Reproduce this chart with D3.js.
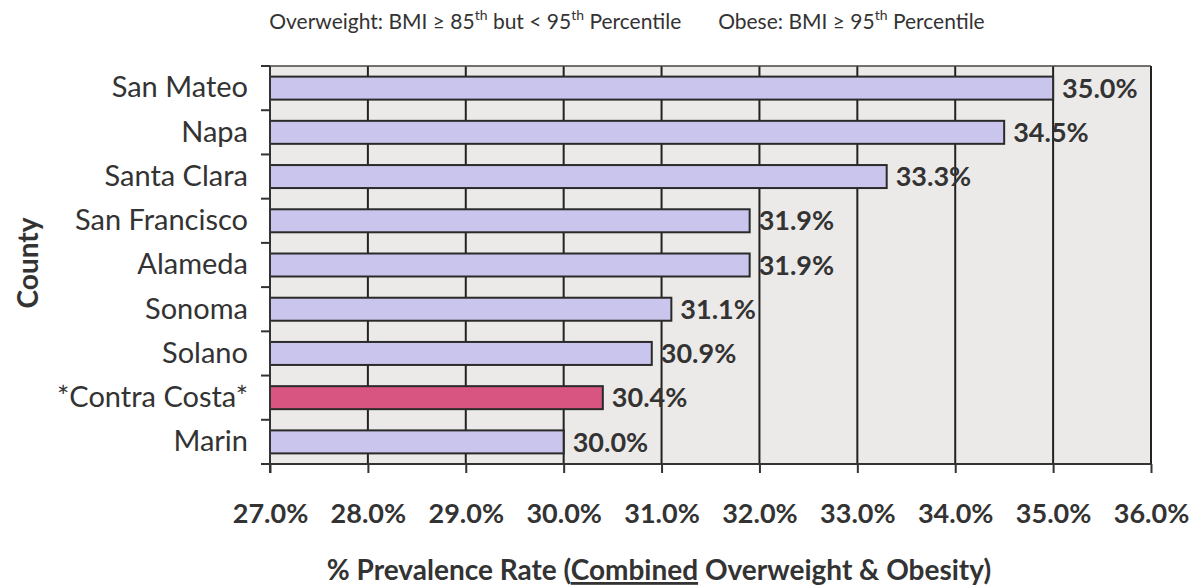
<html>
<head>
<meta charset="utf-8">
<style>
  body { margin: 0; background: #fff; }
  svg text { font-family: Lato, "Open Sans", sans-serif; fill: #333; }
</style>
<script src="https://cdnjs.cloudflare.com/ajax/libs/d3/7.8.5/d3.min.js"></script>
</head>
<body>
<svg id="chart" width="1200" height="586"></svg>
<script>
// data
let counties = ["San Mateo", "Napa", "Santa Clara", "San Francisco", "Alameda",
                "Sonoma", "Solano", "*Contra Costa*", "Marin"];
let rates = [35.0, 34.5, 33.3, 31.9, 31.9, 31.1, 30.9, 30.4, 30.0];
let highlight = "*Contra Costa*";
let xTicks = [27, 28, 29, 30, 31, 32, 33, 34, 35, 36];

let pLeft = 270, pRight = 1151, pTop = 66, pBottom = 464;

let svg = d3.select("#chart");

let x = d3.scaleLinear().domain([27, 36]).range([pLeft, pRight]);
let y = d3.scaleBand().domain(counties).range([pTop, pBottom]).paddingInner(0.48).paddingOuter(0.24);
let yb = d3.scaleBand().domain(counties).range([pTop, pBottom]);

// plot background
svg.append("rect")
  .attr("x", pLeft).attr("y", pTop)
  .attr("width", pRight - pLeft).attr("height", pBottom - pTop)
  .attr("fill", "#ecEAE9");

// vertical gridlines
svg.append("g").selectAll("line")
  .data(xTicks.slice(1))
  .join("line")
  .attr("x1", d => x(d)).attr("x2", d => x(d))
  .attr("y1", pTop).attr("y2", pBottom)
  .attr("stroke", "#222").attr("stroke-width", 2);

// top border
svg.append("line")
  .attr("x1", pLeft).attr("x2", pRight).attr("y1", pTop).attr("y2", pTop)
  .attr("stroke", "#444").attr("stroke-width", 1.5);

// bars
svg.append("g").selectAll("rect")
  .data(counties)
  .join("rect")
  .attr("x", x(27))
  .attr("y", d => y(d))
  .attr("width", (d, i) => x(rates[i]) - x(27))
  .attr("height", y.bandwidth())
  .attr("fill", d => d === highlight ? "#d95581" : "#c9c5ec")
  .attr("stroke", "#2a2a2a").attr("stroke-width", 2);

// value labels
svg.append("g").selectAll("text")
  .data(counties)
  .join("text")
  .attr("x", (d, i) => x(rates[i]) + 9)
  .attr("y", d => y(d) + y.bandwidth() / 2)
  .attr("dy", "0.36em")
  .attr("font-size", 27).attr("font-weight", "bold")
  .text((d, i) => rates[i].toFixed(1) + "%");

// y axis
let yAxis = svg.append("g").attr("transform", `translate(${pLeft},0)`)
  .call(d3.axisLeft(yb).tickSize(0).tickPadding(22));
yAxis.select(".domain").remove();
yAxis.selectAll("text").attr("font-size", 29).style("font-family", "Lato, sans-serif").attr("fill", "#333");
svg.append("g").selectAll("line")
  .data(counties.slice(1).map(c => yb(c)).concat([pTop]))
  .join("line")
  .attr("x1", pLeft - 9).attr("x2", pLeft)
  .attr("y1", d => d).attr("y2", d => d)
  .attr("stroke", "#333").attr("stroke-width", 2);
svg.append("line")
  .attr("x1", pLeft).attr("x2", pLeft).attr("y1", pTop).attr("y2", pBottom + 9)
  .attr("stroke", "#333").attr("stroke-width", 2);

// x axis
let xAxis = svg.append("g").attr("transform", `translate(0,${pBottom})`)
  .call(d3.axisBottom(x).tickValues(xTicks).tickSize(9).tickPadding(31)
    .tickFormat(d => d.toFixed(1) + "%"));
xAxis.select(".domain").remove();
xAxis.selectAll("line").attr("stroke", "#333").attr("stroke-width", 2);
xAxis.selectAll("text").attr("font-size", 27).attr("font-weight", "bold")
  .style("font-family", "Lato, sans-serif").attr("fill", "#333");
svg.append("line")
  .attr("x1", pLeft - 9).attr("x2", pRight).attr("y1", pBottom).attr("y2", pBottom)
  .attr("stroke", "#333").attr("stroke-width", 2);

// axis titles
let xt = svg.append("text")
  .attr("x", 659).attr("y", 580)
  .attr("text-anchor", "middle")
  .attr("font-size", 28).attr("font-weight", "bold");
xt.append("tspan").text("% Prevalence Rate (");
xt.append("tspan").attr("text-decoration", "underline").text("Combined");
xt.append("tspan").text(" Overweight & Obesity)");

svg.append("text")
  .attr("transform", "translate(38,263) rotate(-90)")
  .attr("text-anchor", "middle")
  .attr("font-size", 28).attr("font-weight", "bold")
  .text("County");

// subtitle with superscripts
let st = svg.append("text")
  .attr("x", 627).attr("y", 29)
  .attr("text-anchor", "middle")
  .attr("font-size", 21);
st.append("tspan").text("Overweight: BMI \u2265 85");
st.append("tspan").attr("dy", -9).attr("font-size", 14).text("th");
st.append("tspan").attr("dy", 9).text(" but < 95");
st.append("tspan").attr("dy", -9).attr("font-size", 14).text("th");
st.append("tspan").attr("dy", 9).text(" Percentile\u2003\u2003 Obese: BMI \u2265 95");
st.append("tspan").attr("dy", -9).attr("font-size", 14).text("th");
st.append("tspan").attr("dy", 9).text(" Percentile");
</script>
</body>
</html>
